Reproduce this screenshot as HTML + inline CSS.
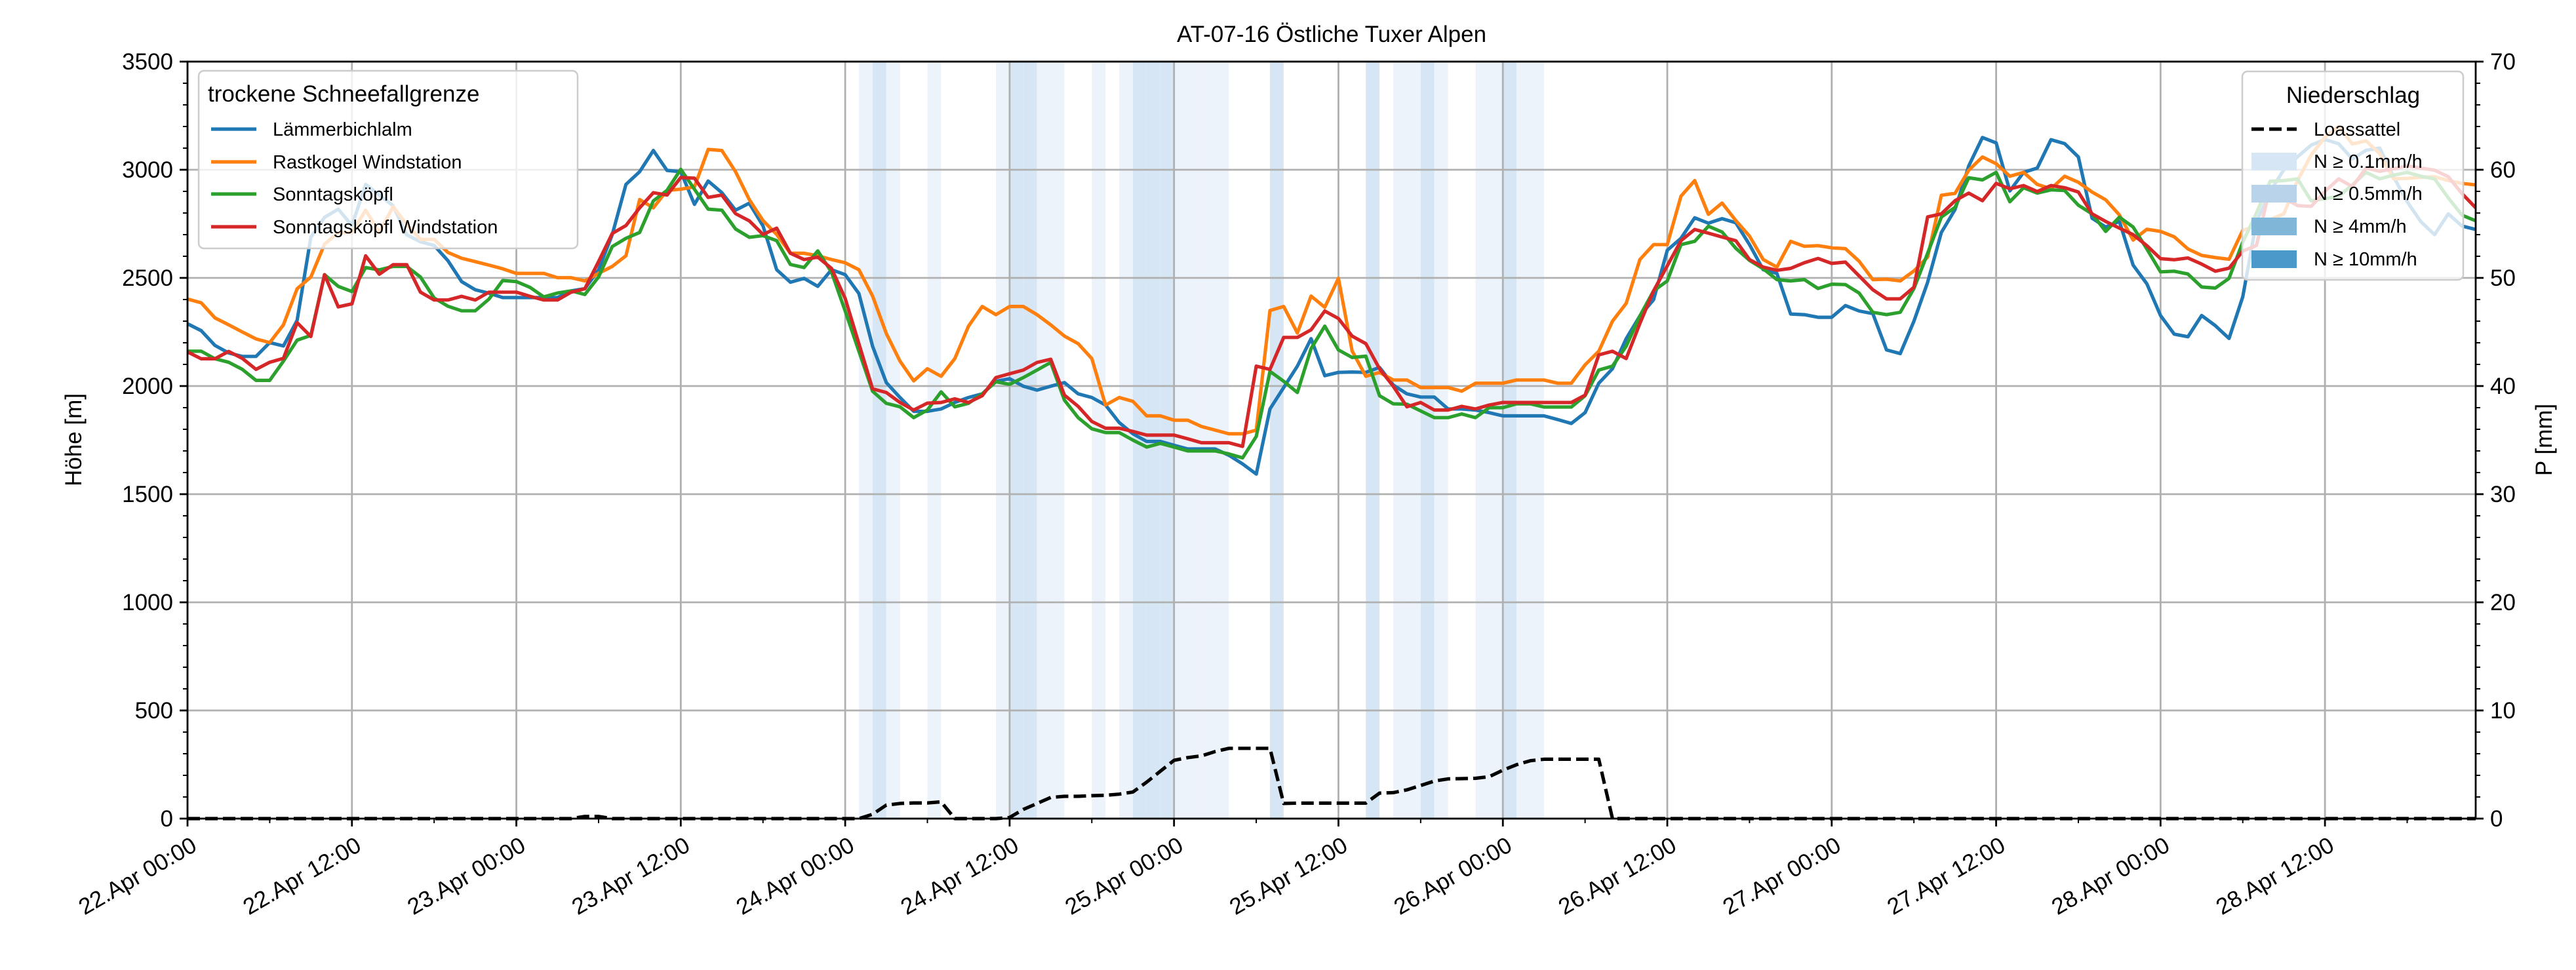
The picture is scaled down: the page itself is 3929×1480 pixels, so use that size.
<!DOCTYPE html>
<html><head><meta charset="utf-8">
<style>
html,body{margin:0;padding:0;background:#fff;}
svg{display:block;font-family:"Liberation Sans","DejaVu Sans",sans-serif;}
</style></head>
<body>
<svg id="chart" width="3929" height="1480" viewBox="0 0 3929 1480" xmlns="http://www.w3.org/2000/svg">
<rect x="0" y="0" width="3929" height="1480" fill="#fff"/>
<g id="bands"></g>
<g id="grid"></g>
<g id="lines"></g>
<g id="axes"></g>
<text x="2031" y="64" font-size="35" text-anchor="middle">AT-07-16 Östliche Tuxer Alpen</text>
<text x="0" y="0" font-size="35" text-anchor="middle" transform="translate(124,671) rotate(-90)">Höhe [m]</text>
<text x="0" y="0" font-size="35" text-anchor="middle" transform="translate(3892,671) rotate(-90)">P [mm]</text>
<g id="legend1">
<rect x="303" y="108" width="578" height="271" rx="8" fill="#fff" fill-opacity="0.8" stroke="#cccccc" stroke-width="2.5"/>
<text x="317" y="155" font-size="35">trockene Schneefallgrenze</text>
<g><line x1="322" y1="197" x2="391" y2="197" stroke="#1f77b4" stroke-width="5.2"/><text x="416" y="207" font-size="29">Lämmerbichlalm</text></g>
<g><line x1="322" y1="247" x2="391" y2="247" stroke="#ff7f0e" stroke-width="5.2"/><text x="416" y="257" font-size="29">Rastkogel Windstation</text></g>
<g><line x1="322" y1="296" x2="391" y2="296" stroke="#2ca02c" stroke-width="5.2"/><text x="416" y="306" font-size="29">Sonntagsköpfl</text></g>
<g><line x1="322" y1="346" x2="391" y2="346" stroke="#d62728" stroke-width="5.2"/><text x="416" y="356" font-size="29">Sonntagsköpfl Windstation</text></g>
</g>
<g id="legend2">
<rect x="3420" y="109" width="337" height="318" rx="8" fill="#fff" fill-opacity="0.8" stroke="#cccccc" stroke-width="2.5"/>
<text x="3589" y="157" font-size="35" text-anchor="middle">Niederschlag</text>
<g><line x1="3434" y1="197" x2="3503" y2="197" stroke="#000" stroke-width="5.2" stroke-dasharray="19,8"/><text x="3529" y="207" font-size="29">Loassattel</text></g>
<g><rect x="3434" y="233" width="69" height="27" fill="#d6e6f4"/><text x="3529" y="256" font-size="29">N ≥ 0.1mm/h</text></g>
<g><rect x="3434" y="282" width="69" height="27" fill="#b9d4ea"/><text x="3529" y="305" font-size="29">N ≥ 0.5mm/h</text></g>
<g><rect x="3434" y="332" width="69" height="27" fill="#80b7d9"/><text x="3529" y="355" font-size="29">N ≥ 4mm/h</text></g>
<g><rect x="3434" y="382" width="69" height="27" fill="#4b98ca"/><text x="3529" y="405" font-size="29">N ≥ 10mm/h</text></g>
</g>
</svg>
<script>
const xTickLabels = ["22.Apr 00:00","22.Apr 12:00","23.Apr 00:00","23.Apr 12:00","24.Apr 00:00","24.Apr 12:00","25.Apr 00:00","25.Apr 12:00","26.Apr 00:00","26.Apr 12:00","27.Apr 00:00","27.Apr 12:00","28.Apr 00:00","28.Apr 12:00"];
const yTicks = [0,500,1000,1500,2000,2500,3000,3500];
const y2Ticks = [0,10,20,30,40,50,60,70];
const laemmer = [2288,2256,2188,2153,2137,2137,2201,2185,2304,2688,2780,2818,2742,2932,2883,2834,2699,2667,2650,2580,2483,2445,2429,2409,2409,2409,2409,2409,2440,2450,2537,2700,2932,2991,3089,2997,2991,2840,2948,2894,2813,2845,
2741,2538,2480,2498,2461,2538,2515,2428,2184,2016,1947,1883,1883,1894,1924,1947,1964,2022,2034,1999,1981,1999,2016,1964,1947,1912,1831,1779,1744,1744,1726,1709,1709,1709,1680,1640,1593,1894,1993,2092,2219,2048,2063,2065,
2063,2086,2005,1964,1949,1949,1894,1894,1889,1877,1862,1862,1862,1862,1845,1827,1877,2013,2080,2219,2324,2399,2628,2683,2778,2753,2774,2755,2654,2538,2521,2333,2330,2318,2318,2372,2347,2335,2167,2150,2300,2480,
2710,2816,3018,3149,3124,2902,2988,3008,3139,3121,3059,2776,2735,2761,2559,2473,2326,2240,2228,2326,2279,2220,2412,
2760,2900,3000,3060,3114,3140,3120,3050,3090,3100,2968,2852,2760,2700,2796,2740,2724];
const rastkogel = [2402,2385,2315,2283,2250,2218,2201,2283,2450,2504,2656,2710,2710,2813,2710,2829,2748,2678,2678,2618,2591,2575,2559,2542,2521,2521,2521,2501,2501,2486,2521,2553,2602,2862,2824,2905,2910,2921,3094,3089,2991,2862,
2765,2701,2614,2614,2602,2585,2570,2538,2416,2243,2115,2024,2080,2045,2127,2277,2368,2330,2368,2368,2330,2283,2231,2196,2127,1912,1947,1929,1862,1862,1842,1842,1813,1796,1779,1779,1796,2349,2368,2245,2416,2364,2498,2162,
2045,2063,2028,2028,1993,1993,1993,1976,2013,2013,2013,2028,2028,2028,2013,2013,2098,2161,2300,2382,2585,2654,2654,2878,2950,2794,2846,2765,2693,2585,2550,2669,2646,2649,2639,2635,2577,2492,2494,2486,2532,2596,
2882,2891,2998,3059,3028,2970,2988,2932,2912,2970,2942,2897,2861,2791,2675,2725,2715,2690,2634,2604,2594,2586,2720,
2740,2770,2796,2950,3069,3150,3200,3119,3134,3074,2958,2960,2965,2968,2950,2937,2930];
const sonntag = [2161,2161,2126,2110,2077,2026,2026,2115,2212,2234,2515,2461,2437,2548,2537,2553,2553,2504,2407,2369,2348,2348,2402,2488,2483,2456,2412,2430,2440,2423,2504,2645,2683,2710,2856,2905,3002,2910,2818,2813,2726,2688,
2695,2672,2562,2548,2625,2527,2347,2161,1976,1920,1904,1854,1889,1973,1904,1920,1964,2020,2008,2039,2074,2109,1935,1854,1802,1785,1785,1750,1718,1735,1718,1700,1700,1700,1686,1668,1767,2068,2022,1970,2173,2277,2167,2132,
2138,1955,1918,1916,1885,1854,1854,1871,1854,1900,1900,1918,1918,1903,1903,1903,1955,2074,2092,2184,2324,2440,2486,2654,2669,2739,2712,2637,2581,2542,2492,2486,2492,2451,2471,2469,2430,2341,2330,2341,2451,2614,
2781,2826,2963,2953,2988,2852,2917,2892,2907,2904,2836,2796,2715,2781,2735,2634,2528,2531,2518,2458,2453,2498,2665,
2800,2947,2950,2958,2856,2866,2877,2930,2988,2958,2975,2988,2970,2958,2870,2790,2764];
const sonntagWind = [2158,2126,2126,2160,2128,2077,2110,2128,2293,2229,2515,2366,2380,2602,2517,2561,2561,2434,2398,2398,2415,2398,2434,2434,2434,2415,2398,2398,2434,2450,2575,2705,2742,2824,2894,2883,2964,2961,2872,2883,2797,2764,
2701,2730,2614,2585,2596,2544,2405,2196,1987,1970,1924,1889,1921,1924,1941,1924,1955,2039,2057,2074,2109,2124,1958,1906,1836,1805,1805,1790,1773,1773,1773,1756,1738,1738,1738,1721,2092,2077,2225,2225,2260,2347,2312,2231,
2196,2080,1999,1904,1924,1889,1889,1906,1894,1912,1924,1924,1924,1924,1924,1924,1958,2144,2161,2127,2289,2440,2556,2672,2724,2707,2689,2672,2585,2550,2535,2544,2570,2590,2567,2573,2509,2445,2403,2403,2457,2782,
2796,2857,2892,2857,2937,2912,2927,2899,2927,2917,2897,2796,2761,2730,2700,2649,2589,2584,2592,2564,2531,2545,2624,
2650,2920,2870,2834,2831,2900,2958,2922,3008,2993,3005,3018,3008,2998,2968,2890,2824];
const loassattel = [0,0,0,0,0,0,0,0,0,0,0,0,0,0,0,0,0,0,0,0,0,0,0,0,0,0,0,0,0,0.2,0.2,0,0,0,0,0,0,0,0,0,0,0,0,0,0,0,0,0,0,0,
0.4,1.25,1.4,1.45,1.45,1.55,0,0,0,0,
0.1,0.85,1.4,1.96,2.06,2.06,2.12,2.16,2.26,2.46,3.37,4.38,5.39,5.64,5.8,6.2,6.5,6.5,6.5,6.5,
1.4,1.43,1.43,1.43,1.43,1.43,1.43,
2.36,2.4,2.66,3.06,3.47,3.67,3.7,3.73,3.87,4.48,4.98,5.35,5.49,5.49,5.49,5.49,5.49,
0,0,0,0,0,0,0,0,0,0,0,0,0,0,0,0,0,0,0,0,0,0,0,0,0,0,0,0,0,0,0,0,0,0,0,0,0,0,0,0,0,0,0,0,0,0,0,0,0,0,0,0,0,0,0,0,0,0,0,0,0,0,0,0];
const precipLevel = [0,0,0,0,0,0,0,0,0,0,0,0,0,0,0,0,0,0,0,0,0,0,0,0,0,0,0,0,0,0,0,0,0,0,0,0,0,0,0,0,0,0,0,0,0,0,0,0,0,
1,2,1,0,0,1,0,0,0,0,1,2,2,1,1,0,0,1,0,1,2,2,2,1,1,1,1,0,0,0,2,0,0,0,0,0,0,2,0,1,1,2,1,0,0,1,1,2,1,1,
0,0,0,0,0,0,0,0,0,0,0,0,0,0,0,0,0,0,0,0,0,0,0,0,0,0,0,0,0,0,0,0,0,0,0,0,0,0,0,0,0,0,0,0,0,0,0,0,0,0,0,0,0,0,0,0,0,0,0,0,0,0,0,0,0,0,0,0,0];

const NS='http://www.w3.org/2000/svg';
const L=286,R=3776,T=94,B=1249,NH=167;
function xs(h){return L+h*(R-L)/NH;}
function ys(v){return B-v/3500*(B-T);}
function y2s(p){return B-p/70*(B-T);}
function mk(tag,attrs,parent){const e=document.createElementNS(NS,tag);for(const k in attrs)e.setAttribute(k,attrs[k]);parent.appendChild(e);return e;}

const bandColors=['none','#edf3fb','#d7e6f4','#a9cbe4','#7fb3d8'];
const gB=document.getElementById('bands');
for(let i=0;i<precipLevel.length;i++){
  if(!precipLevel[i])continue;
  const r=mk('rect',{x:xs(i),y:T,width:Math.min(xs(i+1),R)-xs(i),height:B-T,fill:bandColors[precipLevel[i]]},gB);
  
  
}
const gG=document.getElementById('grid');
for(let i=0;i<xTickLabels.length;i++){
  const l=mk('line',{x1:xs(i*12),x2:xs(i*12),y1:T,y2:B,stroke:'#b0b0b0','stroke-width':2.8},gG);
  
  
}
for(const v of yTicks){
  const l=mk('line',{x1:L,x2:R,y1:ys(v),y2:ys(v),stroke:'#b0b0b0','stroke-width':2.8},gG);
  
  
}
const gL=document.getElementById('lines');
function poly(arr,color,name,yfn,dash){
  const pts=arr.map((v,i)=>xs(i).toFixed(1)+','+yfn(v).toFixed(1)).join(' ');
  const p=mk('polyline',{points:pts,fill:'none',stroke:color,'stroke-width':5.2,'stroke-linejoin':'round'},gL);
  if(dash)p.setAttribute('stroke-dasharray',dash);
  
  
}
poly(laemmer,'#1f77b4','line-laemmerbichlalm',ys);
poly(rastkogel,'#ff7f0e','line-rastkogel-windstation',ys);
poly(sonntag,'#2ca02c','line-sonntagskoepfl',ys);
poly(sonntagWind,'#d62728','line-sonntagskoepfl-windstation',ys);
poly(loassattel,'#000','line-loassattel-precip',y2s,'19,8');

const gA=document.getElementById('axes');
mk('rect',{x:L,y:T,width:R-L,height:B-T,fill:'none',stroke:'#000','stroke-width':2.8},gA);
for(let h=0;h<=NH;h+=6){
  const major=h%12===0;
  mk('line',{x1:xs(h),x2:xs(h),y1:B,y2:B+(major?12:7),stroke:'#000','stroke-width':major?2.8:2},gA);
}
for(let i=0;i<xTickLabels.length;i++){
  const t=mk('text',{x:0,y:0,'font-size':35,'text-anchor':'end','dominant-baseline':'hanging',transform:'translate('+(xs(i*12)+4)+','+(B+26)+') rotate(-30)'},gA);
  t.textContent=xTickLabels[i];
  
  
}
for(let v=0;v<=3500;v+=100){
  const major=v%500===0;
  mk('line',{x1:L,x2:L-(major?12:7),y1:ys(v),y2:ys(v),stroke:'#000','stroke-width':major?2.8:2},gA);
}
for(const v of yTicks){
  const t=mk('text',{x:L-22,y:ys(v)+12,'font-size':35,'text-anchor':'end'},gA);
  t.textContent=String(v);
  
  
}
for(let p=0;p<=70;p+=2){
  const major=p%10===0;
  mk('line',{x1:R,x2:R+(major?12:7),y1:y2s(p),y2:y2s(p),stroke:'#000','stroke-width':major?2.8:2},gA);
}
for(const p of y2Ticks){
  const t=mk('text',{x:R+22,y:y2s(p)+12,'font-size':35,'text-anchor':'start'},gA);
  t.textContent=String(p);
  
  
}
</script>
</body></html>
